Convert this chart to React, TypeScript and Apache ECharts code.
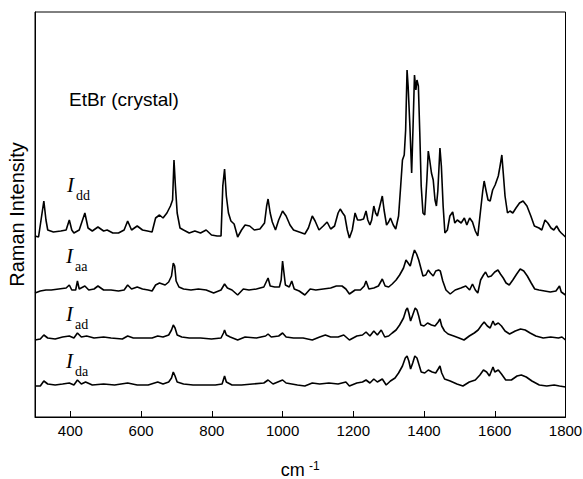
import React, { useEffect, useRef } from "react";
import * as echarts from "echarts";

// Raman spectra of EtBr crystal, four polarisation geometries (stacked, arbitrary units)
const xTicks = [400, 600, 800, 1000, 1200, 1400, 1600, 1800];

const Idd: [number, number][] = [
  [300,181],[310,180],[325,216],[331,197],[336,187],[352,185],[373,186],[388,187],[397,197],[404,187],[410,184],[425,187],[441,204],[450,189],[462,186],[478,190],[494,186],[504,187],[520,184],[536,184],[552,187],[562,196],[573,187],[589,191],[604,187],[618,186],[631,185],[641,199],[652,202],[662,199],[673,204],[683,211],[689,217],[693,257],[697,231],[702,204],[710,189],[720,187],[736,184],[752,186],[768,184],[784,187],[799,182],[815,181],[826,181],[831,231],[836,248],[841,221],[847,204],[854,196],[863,193],[873,180],[884,187],[894,192],[907,191],[920,187],[936,188],[949,194],[955,211],[959,218],[965,204],[971,195],[980,187],[989,197],[1000,206],[1010,201],[1021,192],[1031,187],[1047,185],[1063,183],[1073,189],[1084,201],[1092,196],[1103,187],[1115,191],[1126,195],[1136,188],[1147,191],[1157,204],[1163,208],[1170,204],[1176,201],[1183,187],[1189,179],[1197,187],[1205,204],[1212,197],[1220,197],[1229,198],[1236,206],[1241,197],[1247,192],[1252,197],[1258,211],[1263,204],[1268,201],[1275,211],[1282,221],[1287,207],[1294,192],[1300,195],[1305,199],[1313,192],[1320,188],[1328,201],[1334,231],[1339,257],[1344,262],[1348,287],[1352,347],[1355,331],[1360,291],[1365,244],[1369,291],[1373,342],[1377,327],[1380,337],[1384,331],[1388,284],[1392,231],[1397,204],[1402,202],[1408,237],[1412,266],[1416,257],[1421,244],[1426,237],[1431,217],[1435,211],[1439,226],[1445,269],[1449,251],[1454,211],[1459,184],[1466,187],[1473,201],[1481,205],[1487,194],[1494,197],[1505,194],[1514,199],[1521,192],[1529,199],[1537,195],[1545,186],[1552,181],[1560,207],[1566,226],[1570,236],[1575,227],[1581,217],[1587,216],[1594,227],[1601,232],[1610,241],[1615,251],[1620,262],[1624,244],[1629,221],[1636,204],[1643,206],[1651,204],[1660,209],[1670,214],[1680,216],[1691,211],[1702,201],[1712,191],[1725,189],[1733,187],[1742,197],[1750,194],[1759,189],[1767,187],[1775,191],[1783,186],[1788,184],[1800,180]
];

const Iaa: [number, number][] = [
  [300,124],[315,126],[331,127],[346,127],[367,128],[388,129],[397,132],[404,127],[415,127],[420,136],[425,128],[441,131],[452,127],[467,128],[478,131],[494,127],[515,127],[536,126],[552,127],[562,132],[573,128],[589,130],[604,128],[620,127],[631,126],[641,132],[652,134],[668,132],[678,135],[686,141],[691,154],[695,151],[699,136],[707,130],[720,128],[741,127],[762,128],[784,127],[805,124],[826,127],[836,133],[844,129],[857,127],[873,122],[889,128],[905,127],[926,128],[947,130],[955,136],[959,139],[965,131],[978,130],[991,130],[996,137],[1000,156],[1004,144],[1008,132],[1019,130],[1026,136],[1033,128],[1047,126],[1063,122],[1078,128],[1094,127],[1115,128],[1136,129],[1152,131],[1168,131],[1179,128],[1189,123],[1205,127],[1220,127],[1231,131],[1236,136],[1244,128],[1258,129],[1271,131],[1282,138],[1290,131],[1300,130],[1310,133],[1321,137],[1331,142],[1342,149],[1349,157],[1355,154],[1361,151],[1368,161],[1373,167],[1379,163],[1385,157],[1391,149],[1397,141],[1405,142],[1412,147],[1418,144],[1426,141],[1433,146],[1441,147],[1446,146],[1453,136],[1462,127],[1474,123],[1488,127],[1504,129],[1518,131],[1529,127],[1537,133],[1545,127],[1552,124],[1560,137],[1568,142],[1574,145],[1581,140],[1590,141],[1600,145],[1609,147],[1616,143],[1624,139],[1632,134],[1641,132],[1651,137],[1662,143],[1672,148],[1682,146],[1692,141],[1703,134],[1713,128],[1725,127],[1741,126],[1757,125],[1773,126],[1783,131],[1788,125],[1800,122]
];

const Iad: [number, number][] = [
  [300,77],[315,78],[325,82],[336,79],[357,78],[378,80],[397,81],[410,79],[420,84],[431,80],[446,81],[467,79],[494,80],[515,79],[547,78],[562,81],[578,79],[604,79],[631,79],[647,81],[662,80],[678,82],[686,87],[691,92],[696,89],[702,82],[715,80],[736,79],[768,79],[799,78],[826,79],[833,84],[836,87],[841,82],[852,80],[873,77],[894,80],[926,79],[952,81],[959,83],[968,80],[989,81],[1000,84],[1010,80],[1031,79],[1058,79],[1084,77],[1105,80],[1121,82],[1136,80],[1157,80],[1173,82],[1189,77],[1210,81],[1226,82],[1236,85],[1247,81],[1258,86],[1268,82],[1279,87],[1289,80],[1300,81],[1310,84],[1321,87],[1331,92],[1342,99],[1349,107],[1353,109],[1357,104],[1362,96],[1368,102],[1375,109],[1380,107],[1385,101],[1391,92],[1400,91],[1410,94],[1421,92],[1431,91],[1440,95],[1445,98],[1450,91],[1458,86],[1468,83],[1484,81],[1499,79],[1513,77],[1528,81],[1542,84],[1553,87],[1563,92],[1570,95],[1579,91],[1587,89],[1595,96],[1600,92],[1610,94],[1619,91],[1629,86],[1642,83],[1658,86],[1673,88],[1686,87],[1700,84],[1716,81],[1737,79],[1758,80],[1780,79],[1790,80],[1800,77]
];

const Ida: [number, number][] = [
  [300,31],[315,31],[325,36],[336,33],[357,32],[378,33],[397,34],[410,32],[420,37],[431,33],[443,35],[462,32],[494,33],[525,32],[562,34],[589,32],[620,32],[647,35],[662,33],[678,35],[686,39],[691,45],[696,41],[702,35],[720,33],[747,32],[778,32],[810,32],[829,33],[836,41],[841,35],[857,32],[884,32],[915,33],[947,34],[959,37],[973,33],[1000,37],[1010,34],[1042,32],[1063,31],[1084,34],[1105,33],[1131,34],[1157,33],[1179,35],[1189,31],[1210,34],[1226,35],[1236,37],[1247,34],[1258,38],[1268,35],[1282,38],[1293,32],[1305,36],[1318,39],[1328,44],[1339,51],[1347,59],[1352,61],[1357,56],[1362,48],[1368,54],[1374,61],[1380,59],[1386,52],[1392,45],[1402,44],[1412,47],[1423,45],[1433,44],[1440,48],[1445,51],[1450,44],[1458,38],[1474,36],[1493,33],[1510,31],[1528,35],[1545,37],[1558,42],[1568,47],[1577,45],[1585,41],[1595,50],[1600,45],[1610,47],[1619,43],[1631,37],[1647,37],[1663,41],[1675,42],[1689,40],[1705,36],[1726,32],[1747,31],[1768,32],[1783,31],[1800,30]
];

const traces = [
  { name: "dd", data: Idd },
  { name: "aa", data: Iaa },
  { name: "ad", data: Iad },
  { name: "da", data: Ida },
];

const traceLabels = [
  { sub: "dd", x: 67, y: 195 },
  { sub: "aa", x: 66, y: 266 },
  { sub: "ad", x: 66, y: 324 },
  { sub: "da", x: 66, y: 371 },
];

export default function App() {
  const ref = useRef<HTMLDivElement>(null);
  useEffect(() => {
    if (!ref.current) return;
    const chart = echarts.init(ref.current, null, { renderer: "svg" });
    const graphics: any[] = [
      {
        type: "text",
        x: 69,
        y: 90,
        style: {
          text: "EtBr (crystal)",
          fontFamily: "Liberation Sans, Arial, sans-serif",
          fontSize: 19,
          fill: "#000",
          verticalAlign: "top",
        },
      },
    ];
    traceLabels.forEach((l) => {
      graphics.push({
        type: "text",
        x: l.x,
        y: l.y,
        style: {
          text: "I",
          fontFamily: "Liberation Serif, Times New Roman, serif",
          fontStyle: "italic",
          fontSize: 21,
          fill: "#000",
          verticalAlign: "bottom",
        },
      });
      graphics.push({
        type: "text",
        x: l.x + 9,
        y: l.y + 7,
        style: {
          text: l.sub,
          fontFamily: "Liberation Serif, Times New Roman, serif",
          fontSize: 14,
          fill: "#000",
          verticalAlign: "bottom",
        },
      });
    });
    chart.setOption({
      animation: false,
      backgroundColor: "#fff",
      grid: {
        left: 35,
        right: 17.5,
        top: 12,
        bottom: 62,
        show: true,
        borderColor: "#000",
        borderWidth: 1,
        containLabel: false,
        outerBoundsMode: "none",
      },
      xAxis: {
        type: "value",
        min: 300,
        max: 1800,
        name: "{a|cm}{b| -1}",
        nameLocation: "middle",
        nameGap: 43,
        nameTextStyle: {
          rich: {
            a: { fontFamily: "Liberation Sans, Arial, sans-serif", fontSize: 18, color: "#000", lineHeight: 20 },
            b: { fontFamily: "Liberation Sans, Arial, sans-serif", fontSize: 12, color: "#000", verticalAlign: "top", lineHeight: 20, padding: [0, 0, 14, 1] },
          },
        },
        axisLine: { lineStyle: { color: "#000", width: 1 } },
        axisTick: { inside: true, length: 6, lineStyle: { color: "#000" }, customValues: xTicks },
        axisLabel: {
          customValues: xTicks,
          margin: 6,
          fontFamily: "Liberation Sans, Arial, sans-serif",
          fontSize: 15,
          color: "#000",
          formatter: (v: number) => String(v),
        },
        splitLine: { show: false },
      },
      yAxis: {
        type: "value",
        min: 0,
        max: 405,
        name: "Raman Intensity",
        nameLocation: "middle",
        nameGap: 8,
        nameTextStyle: {
          fontFamily: "Liberation Sans, Arial, sans-serif",
          fontSize: 20,
          color: "#000",
        },
        axisLine: { show: true, lineStyle: { color: "#000", width: 1 } },
        axisTick: { show: false },
        axisLabel: { show: false },
        splitLine: { show: false },
      },
      series: traces.map((t) => ({
        name: t.name,
        type: "line",
        data: t.data,
        showSymbol: false,
        symbol: "none",
        lineStyle: { color: "#000", width: 1.6 },
        clip: true,
      })),
      graphic: graphics,
    });
    return () => chart.dispose();
  }, []);
  return (
    <div
      ref={ref}
      style={{ width: 583, height: 479, position: "fixed", left: 0, top: 0, background: "#fff" }}
    />
  );
}
